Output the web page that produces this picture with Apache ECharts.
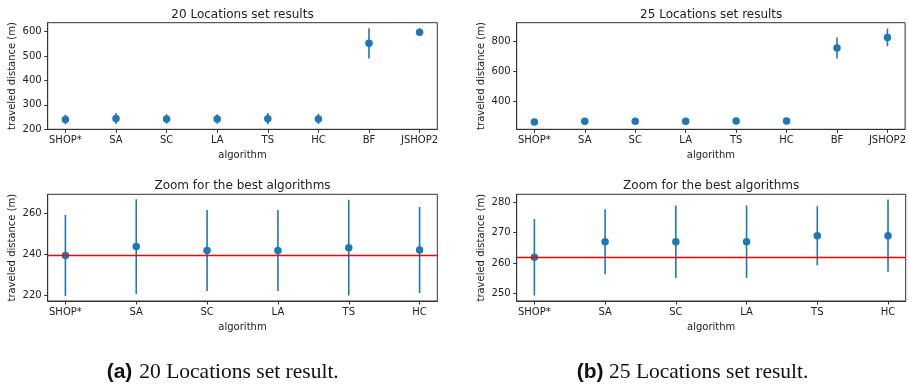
<!DOCTYPE html>
<html>
<head>
<meta charset="utf-8">
<script src="https://cdn.jsdelivr.net/npm/echarts@6/dist/echarts.min.js"></script>
<style>
html,body{margin:0;padding:0;background:#fff;}
#chart{width:909px;height:388px;}
</style>
</head>
<body>
<div id="chart"></div>
<script>
// ---- data ----
const categories = ['SHOP*', 'SA', 'SC', 'LA', 'TS', 'HC', 'BF', 'JSHOP2'];
const bestCount = 6; // SHOP* .. HC shown in the zoom panels
const mean20 = [239.4, 243.7, 241.8, 241.8, 243.2, 242.1, 552, 597];
const err20  = [19.6, 22.9, 19.6, 19.6, 23.2, 20.8, 62, 15.5];
const mean25 = [261.9, 267.0, 267.0, 267.0, 269.0, 269.0, 755, 826];
const err25  = [12.6, 10.7, 11.9, 11.9, 9.7, 11.9, 70, 59];
const yTicksTopA = [200, 300, 400, 500, 600];
const yTicksTopB = [400, 600, 800];
const yTicksZoomA = [220, 240, 260];
const yTicksZoomB = [250, 260, 270, 280];
const titles = ['20 Locations set results', '25 Locations set results', 'Zoom for the best algorithms', 'Zoom for the best algorithms'];
const captions = [['(a)', '20 Locations set result.'], ['(b)', '25 Locations set result.']];

// ---- chart ----
const BLUE = '#1f77b4';
const TXT = '#222';
const FONT = 'DejaVu Sans';
const chart = echarts.init(document.getElementById('chart'), null, {renderer: 'canvas'});

const grids = [
  {left: 47.7, top: 22.7, width: 389.6, height: 106.6},
  {left: 516.7, top: 22.7, width: 389, height: 106.6},
  {left: 47.7, top: 194.3, width: 389.6, height: 106.7},
  {left: 516.7, top: 194.3, width: 389, height: 106.7}
];
const yRanges = [[199.5, 636.5], [214, 924], [217.4, 269.0], [247.5, 282.6]];
const yTicks = [yTicksTopA, yTicksTopB, yTicksZoomA, yTicksZoomB];
const nCats = [categories.length, categories.length, bestCount, bestCount];

function xAxis(i) {
  const n = nCats[i];
  const m = (n - 1) * 0.05;
  const vals = [];
  for (let k = 0; k < n; k++) vals.push(k);
  return {
    type: 'value', gridIndex: i, min: -m, max: n - 1 + m,
    name: 'algorithm', nameLocation: 'middle', nameGap: 21,
    nameTextStyle: {fontFamily: FONT, fontSize: 10, color: TXT},
    axisLine: {show: true, onZero: false, lineStyle: {color: '#333', width: 1}},
    axisTick: {show: true, length: 3.5, customValues: vals, lineStyle: {color: '#333'}},
    axisLabel: {customValues: vals, margin: 6.5, fontFamily: FONT, fontSize: 10, color: TXT,
      formatter: v => categories[Math.round(v)]},
    splitLine: {show: false}
  };
}
function yAxis(i) {
  return {
    type: 'value', gridIndex: i, min: yRanges[i][0], max: yRanges[i][1],
    name: 'traveled distance (m)', nameLocation: 'middle', nameGap: 30,
    nameTextStyle: {fontFamily: FONT, fontSize: 10, color: TXT},
    axisLine: {show: true, onZero: false, lineStyle: {color: '#333', width: 1}},
    axisTick: {show: true, length: 3.5, customValues: yTicks[i], lineStyle: {color: '#333'}},
    axisLabel: {customValues: yTicks[i], margin: 6, fontFamily: FONT, fontSize: 10, color: TXT},
    splitLine: {show: false}
  };
}

function errData(means, errs, n) {
  const out = [];
  for (let k = 0; k < n; k++) out.push([k, means[k] - errs[k], means[k] + errs[k]]);
  return out;
}
function ptData(means, n) {
  const out = [];
  for (let k = 0; k < n; k++) out.push([k, means[k]]);
  return out;
}
function renderErr(params, api) {
  const x = api.value(0);
  const p1 = api.coord([x, api.value(1)]);
  const p2 = api.coord([x, api.value(2)]);
  return {type: 'line', shape: {x1: p1[0], y1: p1[1], x2: p2[0], y2: p2[1]},
    style: {stroke: BLUE, lineWidth: 1.6}};
}

const sets = [[mean20, err20], [mean25, err25], [mean20, err20], [mean25, err25]];
const series = [];
for (let i = 0; i < 4; i++) {
  const [m, e] = sets[i];
  const n = nCats[i];
  series.push({type: 'custom', xAxisIndex: i, yAxisIndex: i, renderItem: renderErr,
    data: errData(m, e, n), clip: true, z: 2});
  const sc = {type: 'scatter', xAxisIndex: i, yAxisIndex: i, data: ptData(m, n),
    symbol: 'circle', symbolSize: 7.5, itemStyle: {color: BLUE, opacity: 1}, z: 3};
  if (i >= 2) {
    sc.markLine = {silent: true, symbol: 'none', animation: false,
      label: {show: false},
      lineStyle: {color: 'red', type: 'solid', width: 1.3},
      data: [{yAxis: m[0]}]};
  }
  series.push(sc);
}

const titleOpts = titles.map((t, i) => ({
  text: t,
  left: grids[i].left + grids[i].width / 2,
  top: grids[i].top - 14,
  textAlign: 'center',
  padding: 0,
  textStyle: {fontFamily: FONT, fontSize: 12, fontWeight: 'normal', color: TXT}
}));

const capX = [[106.7, 139.3], [576.7, 609]];
const graphic = [];
captions.forEach((c, i) => {
  graphic.push({type: 'text', x: capX[i][0], y: 372,
    style: {text: c[0], font: 'bold 21px "Liberation Sans"', fill: '#111', align: 'left', verticalAlign: 'middle'}});
  graphic.push({type: 'text', x: capX[i][1], y: 372,
    style: {text: c[1], font: '21.5px "Liberation Serif"', fill: '#111', align: 'left', verticalAlign: 'middle'}});
});

chart.setOption({
  animation: false,
  backgroundColor: '#fff',
  title: titleOpts,
  grid: grids.map(g => Object.assign({show: true, borderColor: '#333', borderWidth: 1, backgroundColor: 'transparent'}, g)),
  xAxis: [0, 1, 2, 3].map(xAxis),
  yAxis: [0, 1, 2, 3].map(yAxis),
  series: series,
  graphic: graphic
});
</script>
</body>
</html>
